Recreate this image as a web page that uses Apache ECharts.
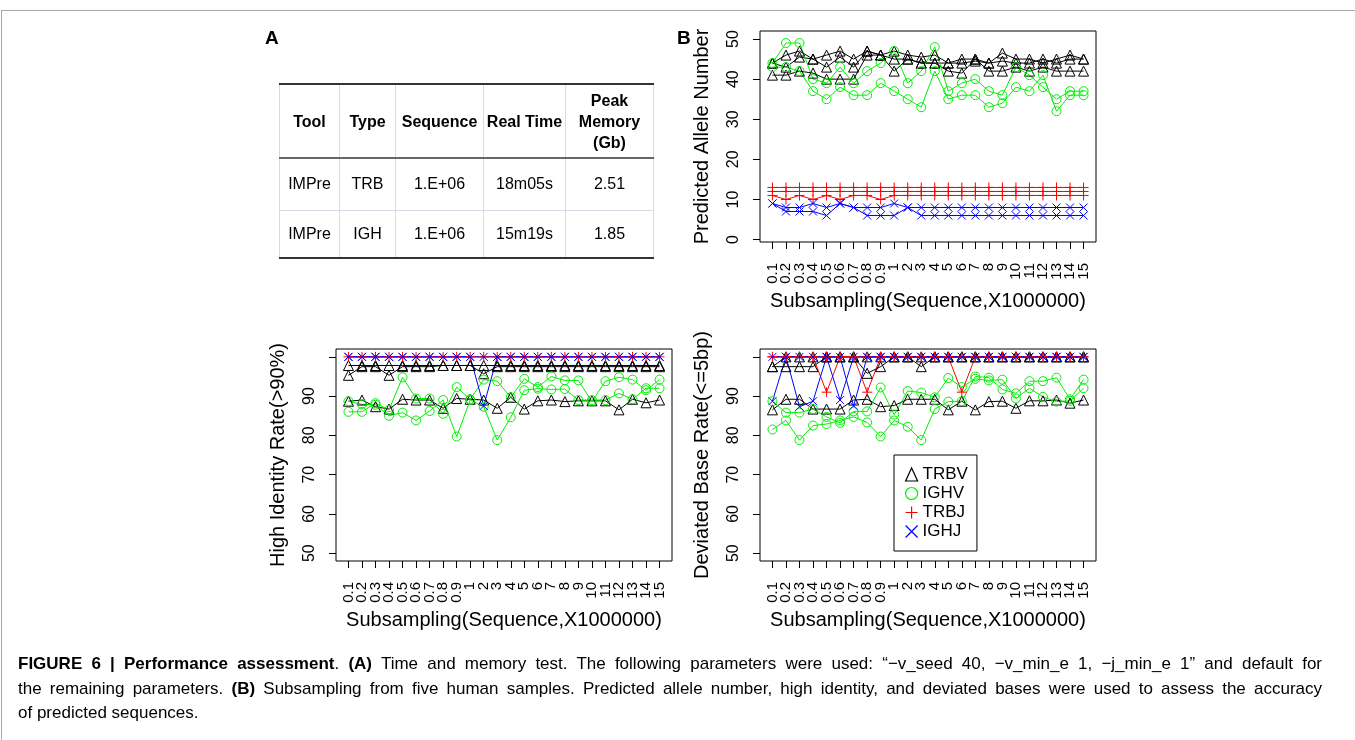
<!DOCTYPE html>
<html>
<head>
<meta charset="utf-8">
<script src="https://cdn.jsdelivr.net/npm/echarts@6.0.0/dist/echarts.min.js"></script>
<style>
body { margin: 0; background: #fff; }
#wrap { position: relative; width: 1355px; height: 740px; overflow: hidden; font-family: "Liberation Sans", Arial, sans-serif; color: #000; }
#frame { position: absolute; left: 1px; top: 10px; width: 1400px; height: 800px; border-left: 1px solid #a8a8a8; border-top: 1px solid #a8a8a8; }
#chart { position: absolute; left: 0; top: 0; width: 1355px; height: 740px; }
.tag { position: absolute; font-weight: bold; font-size: 19px; }
#tblA { position: absolute; left: 279px; top: 83px; border-collapse: collapse; font-size: 16px; border-top: 2px solid #333; border-bottom: 2px solid #333; }
#tblA td, #tblA th { text-align: center; padding: 0; border-left: 1px solid #d5dce6; border-right: 1px solid #d5dce6; }
#tblA tr.hd { height: 74px; border-bottom: 2px solid #666; }
#tblA tr.r1 { height: 52px; border-bottom: 1px solid #d5dce6; }
#tblA tr.r2 { height: 48px; }
#tblA th { font-weight: bold; line-height: 21px; }
.cap { position: absolute; left: 18px; width: 1304px; font-size: 17px; white-space: nowrap; }
.cap.j { text-align: justify; text-align-last: justify; }
</style>
</head>
<body>
<div id="wrap">
  <div id="frame"></div>
  <div id="chart"></div>
  <div class="tag" style="left:265px;top:27px;">A</div>
  <div class="tag" style="left:677px;top:27px;">B</div>
  <table id="tblA"></table>
  <div class="cap j" style="top:654px;"><b>FIGURE 6 | Performance assessment</b>. <b>(A)</b> Time and memory test. The following parameters were used: “−v_seed 40, −v_min_e 1, −j_min_e 1” and default for</div>
  <div class="cap j" style="top:679px;">the remaining parameters. <b>(B)</b> Subsampling from five human samples. Predicted allele number, high identity, and deviated bases were used to assess the accuracy</div>
  <div class="cap" style="top:703px;">of predicted sequences.</div>
</div>
<script>
// table A
var tableHeader = ['Tool', 'Type', 'Sequence', 'Real Time', 'Peak<br>Memory<br>(Gb)'];
var tableRows = [
	['IMPre', 'TRB', '1.E+06', '18m05s', '2.51'],
	['IMPre', 'IGH', '1.E+06', '15m19s', '1.85']
];
var colWidths = [60, 56, 88, 82, 88];

// x categories
var categories = ['0.1','0.2','0.3','0.4','0.5','0.6','0.7','0.8','0.9','1','2','3','4','5','6','7','8','9','10','11','12','13','14','15'];

// Predicted Allele Number
var alleleTRBV1 = [44, 46, 47, 45, 46, 47, 45, 47, 46, 47, 46, 45.5, 46, 44, 45, 45, 44, 46.5, 45, 45, 44, 45, 46, 45];
var alleleTRBV2 = [44, 43, 45.5, 45, 43, 45.5, 43, 47, 46, 45, 45, 44, 44, 44, 44, 44.5, 44, 44.5, 44, 44, 45, 44, 45, 45];
var alleleTRBV3 = [41, 41, 42, 41.5, 40, 40, 40, 46, 46, 42, 45, 44, 44, 42, 41.5, 45, 42, 42, 43, 42, 43, 42, 42, 42];
var alleleIGHV1 = [44, 49, 49, 40, 39, 43, 39, 42, 44, 47, 39, 42, 48, 37, 39, 40, 37, 36, 43, 41, 38, 35, 37, 37];
var alleleIGHV2 = [43, 43, 42, 37, 35, 38, 36, 36, 39, 37, 35, 33, 42, 35, 36, 36, 33, 34, 38, 37, 41, 32, 36, 36];
var alleleTRBJ1 = [13, 13, 13, 13, 13, 13, 13, 13, 13, 13, 13, 13, 13, 13, 13, 13, 13, 13, 13, 13, 13, 13, 13, 13];
var alleleTRBJ2 = [12, 12, 12, 12, 12, 12, 12, 12, 12, 12, 12, 12, 12, 12, 12, 12, 12, 12, 12, 12, 12, 12, 12, 12];
var alleleTRBJ3 = [11, 10, 11, 10, 11, 10, 11, 11, 10, 11, 11, 11, 11, 11, 11, 11, 11, 11, 11, 11, 11, 11, 11, 11];
var alleleIGHJ1 = [9, 8, 8, 9, 8, 9, 8, 8, 8, 9, 8, 8, 8, 8, 8, 8, 8, 8, 8, 8, 8, 8, 8, 8];
var alleleIGHJ2 = [9, 7, 7, 7, 6, 9, 8, 6, 6, 6, 8, 6, 6, 6, 6, 6, 6, 6, 6, 6, 6, 6, 6, 6];

// High Identity Rate(>90%)
var identTRBV1 = [95.3, 97.5, 97.5, 95.3, 97.5, 97.5, 97.5, 97.8, 97.8, 97.8, 95.7, 97.5, 97.5, 97.5, 97.5, 97.5, 97.5, 97.5, 97.5, 97.5, 97.5, 97.5, 97.5, 97.5];
var identTRBV2 = [97.8, 97.8, 97.8, 97.8, 97.8, 97.8, 97.8, 97.8, 97.8, 97.8, 97.8, 97.8, 97.8, 97.8, 97.8, 97.8, 97.8, 97.8, 97.8, 97.8, 97.8, 97.8, 97.8, 97.8];
var identTRBV3 = [88.7, 89, 87.3, 86.7, 89.2, 89, 89, 86.9, 89.4, 89.2, 89, 86.9, 89.7, 86.7, 88.8, 89, 88.6, 88.8, 88.8, 88.8, 86.5, 89.2, 88.3, 89];
var identIGHV1 = [86, 86, 88.2, 86.5, 94.8, 89.4, 89.4, 85.5, 92.3, 89.2, 94.2, 93.8, 89.7, 94.4, 92.3, 95, 94, 94, 88.6, 93.8, 94.8, 94.2, 91.5, 94.2];
var identIGHV2 = [88.7, 87.9, 87.8, 85, 85.8, 83.8, 86.2, 89, 79.7, 89, 87.3, 78.8, 84.6, 91.5, 91.9, 91.7, 91.8, 89, 89, 89, 90.7, 89.2, 92, 92];
var identTRBJ1 = [100, 100, 100, 100, 100, 100, 100, 100, 100, 100, 100, 100, 100, 100, 100, 100, 100, 100, 100, 100, 100, 100, 100, 100];
var identIGHJ1 = [100, 100, 100, 100, 100, 100, 100, 100, 100, 100, 100, 100, 100, 100, 100, 100, 100, 100, 100, 100, 100, 100, 100, 100];
var identIGHJ2 = [100, 100, 100, 100, 100, 100, 100, 100, 100, 100, 87.5, 100, 100, 100, 100, 100, 100, 100, 100, 100, 100, 100, 100, 100];

// Deviated Base Rate(<=5bp)
var devTRBV1 = [97.5, 97.5, 97.5, 97.5, 100, 100, 100, 95.8, 97.5, 100, 100, 97.5, 100, 100, 100, 100, 100, 100, 100, 100, 100, 100, 100, 100];
var devTRBV2 = [97.5, 100, 100, 100, 100, 100, 100, 100, 100, 100, 100, 100, 100, 100, 100, 100, 100, 100, 100, 100, 100, 100, 100, 100];
var devTRBV3 = [86.5, 89.2, 89.2, 86.7, 86.7, 86.7, 89, 89.2, 87.3, 87.6, 89.2, 89.2, 89.2, 86.5, 88.7, 86.5, 88.6, 88.7, 86.9, 88.8, 88.8, 89, 88.2, 89];
var devIGHV1 = [81.5, 83.8, 78.8, 82.5, 82.9, 83.8, 84.7, 83.3, 79.7, 83.8, 82.2, 78.8, 86.7, 88.6, 88.7, 95, 94.7, 91.7, 90.7, 93.8, 93.8, 94.7, 89.2, 94.2];
var devIGHV2 = [88.7, 85.8, 85.8, 86.7, 84.7, 83.2, 86.1, 86.1, 92.2, 85.3, 91.3, 90.9, 89.7, 94.6, 92.3, 94.4, 94, 94.2, 89.4, 92, 89.8, 88.6, 88.8, 92];
var devTRBJ1 = [100, 100, 100, 100, 100, 100, 100, 100, 100, 100, 100, 100, 100, 100, 100, 100, 100, 100, 100, 100, 100, 100, 100, 100];
var devTRBJ2 = [100, 100, 100, 100, 91, 100, 100, 91, 100, 100, 100, 100, 100, 100, 91, 100, 100, 100, 100, 100, 100, 100, 100, 100];
var devIGHJ1 = [88.7, 100, 87.3, 88.7, 100, 89, 100, 100, 100, 100, 100, 100, 100, 100, 100, 100, 100, 100, 100, 100, 100, 100, 100, 100];
var devIGHJ2 = [100, 100, 100, 100, 100, 100, 87.5, 100, 100, 100, 100, 100, 100, 100, 100, 100, 100, 100, 100, 100, 100, 100, 100, 100];

var yTicksAllele = [0, 10, 20, 30, 40, 50];
var yTicksRate = [50, 60, 70, 80, 90, 100];
var yLabelsRate = [50, 60, 70, 80, 90];

// build table
var tbl = document.getElementById('tblA');
var html = '<colgroup>';
colWidths.forEach(function (w) { html += '<col style="width:' + w + 'px">'; });
html += '</colgroup><tr class="hd">';
tableHeader.forEach(function (h) { html += '<th>' + h + '</th>'; });
html += '</tr>';
tableRows.forEach(function (r, k) {
	html += '<tr class="r' + (k + 1) + '">';
	r.forEach(function (c) { html += '<td>' + c + '</td>'; });
	html += '</tr>';
});
tbl.innerHTML = html;

// chart
var FONT = '"Liberation Sans", Arial, sans-serif';
var styles = {
	TRBV: { color: '#000000', symbol: 'triangle', size: 10 },
	IGHV: { color: '#00ee00', symbol: 'circle', size: 9 },
	TRBJ: { color: '#ff0000', symbol: 'path://M0,5L10,5M5,0L5,10', size: 10 },
	IGHJ: { color: '#0000ff', symbol: 'path://M0,0L10,10M0,10L10,0', size: 8 }
};
var idx = categories.map(function (c, i) { return i; });
// labels split over two axes (even / odd) so echarts doesn't drop overlapping ones
var idxEven = idx.filter(function (i) { return i % 2 === 0; });
var idxOdd = idx.filter(function (i) { return i % 2 === 1; });

function mkLine(name, values, panel) {
	var s = styles[name];
	return {
		name: name,
		type: 'line',
		xAxisIndex: panel * 2,
		yAxisIndex: panel,
		data: values.map(function (v, i) { return [i, v]; }),
		symbol: s.symbol,
		symbolSize: s.size,
		showAllSymbol: true,
		lineStyle: { color: s.color, width: 1 },
		itemStyle: { color: 'rgba(0,0,0,0)', borderColor: s.color, borderWidth: 1 },
		emphasis: { disabled: true },
		silent: true
	};
}

function mkX(panel, labelIdx, main) {
	return {
		type: 'value', gridIndex: panel, position: 'bottom', offset: 0, min: -0.92, max: 23.92,
		axisLine: { show: false, onZero: false }, splitLine: { show: false },
		axisTick: { show: main, length: 7, lineStyle: { color: '#000' }, customValues: idx },
		axisLabel: {
			customValues: labelIdx, rotate: 90, margin: 21, fontSize: 15, color: '#000', fontFamily: FONT,
			showMinLabel: true, showMaxLabel: true,
			formatter: function (v) { return categories[Math.round(v)]; }
		},
		name: main ? 'Subsampling(Sequence,X1000000)' : '', nameLocation: 'middle', nameGap: 49,
		nameTextStyle: { fontSize: 20, color: '#000', fontFamily: FONT }
	};
}

function mkY(panel, min, max, ticks, labels, title) {
	return {
		type: 'value', gridIndex: panel, min: min, max: max,
		axisLine: { show: false, onZero: false }, splitLine: { show: false },
		axisTick: { show: true, length: 7, lineStyle: { color: '#000' }, customValues: ticks },
		axisLabel: {
			customValues: labels, rotate: 90, margin: 18, fontSize: 16, color: '#000', fontFamily: FONT,
			showMinLabel: true, showMaxLabel: true
		},
		name: title, nameLocation: 'middle', nameGap: 48,
		nameTextStyle: { fontSize: 20, color: '#000', fontFamily: FONT }
	};
}

var series = [];
[alleleTRBV1, alleleTRBV2, alleleTRBV3].forEach(function (d) { series.push(mkLine('TRBV', d, 0)); });
[alleleIGHV1, alleleIGHV2].forEach(function (d) { series.push(mkLine('IGHV', d, 0)); });
[alleleTRBJ1, alleleTRBJ2, alleleTRBJ3].forEach(function (d) { series.push(mkLine('TRBJ', d, 0)); });
[alleleIGHJ1, alleleIGHJ2].forEach(function (d) { series.push(mkLine('IGHJ', d, 0)); });

[identTRBV1, identTRBV2, identTRBV3].forEach(function (d) { series.push(mkLine('TRBV', d, 1)); });
[identIGHV1, identIGHV2].forEach(function (d) { series.push(mkLine('IGHV', d, 1)); });
[identTRBJ1].forEach(function (d) { series.push(mkLine('TRBJ', d, 1)); });
[identIGHJ1, identIGHJ2].forEach(function (d) { series.push(mkLine('IGHJ', d, 1)); });

[devTRBV1, devTRBV2, devTRBV3].forEach(function (d) { series.push(mkLine('TRBV', d, 2)); });
[devIGHV1, devIGHV2].forEach(function (d) { series.push(mkLine('IGHV', d, 2)); });
[devTRBJ1, devTRBJ2].forEach(function (d) { series.push(mkLine('TRBJ', d, 2)); });
[devIGHJ1, devIGHJ2].forEach(function (d) { series.push(mkLine('IGHJ', d, 2)); });

function legendItem(name) {
	var s = styles[name];
	return { name: name, icon: s.symbol, itemStyle: { color: 'rgba(0,0,0,0)', borderColor: s.color, borderWidth: 1.2 } };
}

var myChart = echarts.init(document.getElementById('chart'), null, { renderer: 'canvas' });
var option = {
	animation: false,
	backgroundColor: 'transparent',
	grid: [
		{ left: 760, top: 31, width: 336, height: 211, show: true, borderColor: '#000', borderWidth: 1, backgroundColor: 'transparent' },
		{ left: 336, top: 349, width: 336, height: 212, show: true, borderColor: '#000', borderWidth: 1, backgroundColor: 'transparent' },
		{ left: 760, top: 349, width: 336, height: 212, show: true, borderColor: '#000', borderWidth: 1, backgroundColor: 'transparent' }
	],
	xAxis: [
		mkX(0, idxEven, true), mkX(0, idxOdd, false),
		mkX(1, idxEven, true), mkX(1, idxOdd, false),
		mkX(2, idxEven, true), mkX(2, idxOdd, false)
	],
	yAxis: [
		mkY(0, -0.6, 52, yTicksAllele, yTicksAllele, 'Predicted Allele Number'),
		mkY(1, 48, 102, yTicksRate, yLabelsRate, 'High Identity Rate(>90%)'),
		mkY(2, 48, 102, yTicksRate, yLabelsRate, 'Deviated Base Rate(<=5bp)')
	],
	legend: {
		orient: 'vertical', left: 894, top: 455,
		padding: [11, 9, 11, 11], itemGap: 2, itemWidth: 12, itemHeight: 13,
		borderColor: '#000', borderWidth: 1, borderRadius: 0,
		textStyle: { fontSize: 17, lineHeight: 17, color: '#000', fontFamily: FONT },
		selectedMode: false,
		data: [legendItem('TRBV'), legendItem('IGHV'), legendItem('TRBJ'), legendItem('IGHJ')]
	},
	series: series
};
myChart.setOption(option);
</script>
</body>
</html>
